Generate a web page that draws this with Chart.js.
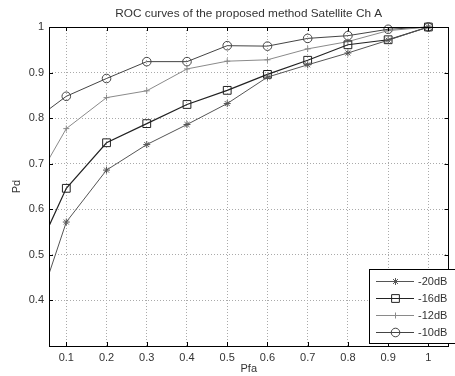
<!DOCTYPE html>
<html><head><meta charset="utf-8">
<script src="https://cdn.jsdelivr.net/npm/chart.js@4"></script>
<style>html,body{margin:0;padding:0;background:#fff}#wrap{width:455px;height:376px}</style>
</head><body><div id="wrap"><canvas id="c" width="455" height="376"></canvas></div>
<script>
const pfa = [0.05, 0.1, 0.2, 0.3, 0.4, 0.5, 0.6, 0.7, 0.8, 0.9, 1.0];
const pd20 = [0.44, 0.572, 0.686, 0.742, 0.786, 0.832, 0.890, 0.917, 0.943, 0.971, 1.0];
const pd16 = [0.55, 0.646, 0.746, 0.788, 0.830, 0.861, 0.896, 0.927, 0.961, 0.972, 1.0];
const pd12 = [0.70, 0.777, 0.845, 0.860, 0.908, 0.925, 0.928, 0.952, 0.968, 0.992, 1.0];
const pd10 = [0.815, 0.848, 0.887, 0.924, 0.924, 0.959, 0.958, 0.975, 0.981, 0.995, 1.0];
const seriesLabels = ['-20dB', '-16dB', '-12dB', '-10dB'];
const xTicks = [0.1, 0.2, 0.3, 0.4, 0.5, 0.6, 0.7, 0.8, 0.9, 1.0];
const yTicks = [0.4, 0.5, 0.6, 0.7, 0.8, 0.9, 1.0];
const titleText = 'ROC curves of the proposed method Satellite Ch A';
const xTitle = 'Pfa';
const yTitle = 'Pd';
const X_MIN = 0.057, X_MAX = 1.05, Y_MIN = 0.3, Y_MAX = 1.0;

const FONT = '"Liberation Sans", Arial, sans-serif';
const pts = arr => arr.map((v, i) => ({x: pfa[i], y: v}));
const styles = [
  {color: '#555', width: 1, point: 'star', r: 3.5},
  {color: '#222', width: 1.2, point: 'rect', r: 5.5},
  {color: '#8a8a8a', width: 1, point: 'cross', r: 3},
  {color: '#444', width: 1, point: 'circle', r: 4.3}
];
const allData = [pd20, pd16, pd12, pd10];
const datasets = allData.map((d, i) => ({
  label: seriesLabels[i],
  data: pts(d),
  borderColor: styles[i].color,
  borderWidth: styles[i].width,
  pointStyle: styles[i].point,
  pointRadius: c => (c.raw && c.raw.x < X_MIN) ? 0 : styles[i].r,
  legendRadius: styles[i].r,
  pointBorderColor: styles[i].color,
  pointBorderWidth: 1,
  pointBackgroundColor: 'rgba(0,0,0,0)',
  pointHoverRadius: styles[i].r,
  tension: 0,
  fill: false,
  clip: {left: 0, top: 10, right: 10, bottom: 0}
}));

const deco = {
  id: 'deco',
  afterDraw(chart) {
    const ctx = chart.ctx, a = chart.chartArea;
    const xs = chart.scales.x, ys = chart.scales.y;
    ctx.save();
    ctx.strokeStyle = '#000'; ctx.lineWidth = 1;
    ctx.strokeRect(Math.round(a.left) + 0.5, Math.round(a.top) + 0.5, Math.round(a.right - a.left) - 1, Math.round(a.bottom - a.top));
    ctx.beginPath();
    xTicks.forEach(v => {
      const px = Math.round(xs.getPixelForValue(v)) + 0.5;
      ctx.moveTo(px, a.bottom); ctx.lineTo(px, a.bottom - 4);
      ctx.moveTo(px, a.top); ctx.lineTo(px, a.top + 4);
    });
    yTicks.forEach(v => {
      const py = Math.round(ys.getPixelForValue(v)) + 0.5;
      ctx.moveTo(a.left, py); ctx.lineTo(a.left + 4, py);
      ctx.moveTo(a.right, py); ctx.lineTo(a.right - 4, py);
    });
    ctx.stroke();
    ctx.fillStyle = '#333';
    ctx.font = '11.8px ' + FONT;
    ctx.textAlign = 'center'; ctx.textBaseline = 'middle';
    ctx.fillText(titleText, (a.left + a.right) / 2, 14);
    ctx.font = '11px ' + FONT;
    ctx.fillText(xTitle, (a.left + a.right) / 2, 369);
    ctx.save();
    ctx.translate(17, (a.top + a.bottom) / 2);
    ctx.rotate(-Math.PI / 2);
    ctx.fillText(yTitle, 0, 0);
    ctx.restore();
    const lx = 369, ly = 269, lw = 90, lh = 74;
    ctx.fillStyle = '#fff';
    ctx.fillRect(lx, ly, lw, lh);
    ctx.strokeStyle = '#000'; ctx.lineWidth = 1;
    ctx.strokeRect(lx + 0.5, ly + 0.5, lw, lh);
    const rows = [281, 298, 315, 332];
    chart.data.datasets.forEach((ds, i) => {
      const y = rows[i] + 0.5;
      ctx.strokeStyle = ds.borderColor; ctx.lineWidth = ds.borderWidth;
      ctx.beginPath(); ctx.moveTo(376, y); ctx.lineTo(414, y); ctx.stroke();
      ctx.lineWidth = 1;
      ctx.fillStyle = 'rgba(0,0,0,0)';
      ctx.strokeStyle = ds.pointBorderColor;
      Chart.helpers.drawPoint(ctx, {pointStyle: ds.pointStyle, radius: ds.legendRadius, borderWidth: 1}, 395.5, y);
      ctx.fillStyle = '#333';
      ctx.textAlign = 'left';
      ctx.fillText(ds.label, 418, rows[i] + 1);
    });
    ctx.restore();
  }
};

new Chart(document.getElementById('c'), {
  type: 'line',
  data: {datasets},
  options: {
    responsive: false,
    animation: false,
    devicePixelRatio: 1,
    layout: {padding: {top: 27, right: 1, left: 0, bottom: 0}},
    plugins: {legend: {display: false}, title: {display: false}, tooltip: {enabled: false}},
    scales: {
      x: {
        type: 'linear', min: X_MIN, max: X_MAX,
        afterBuildTicks: s => { s.ticks = xTicks.map(v => ({value: v})); },
        afterFit: s => { s.height = 30; },
        grid: {color: '#aaa', lineWidth: 1, drawTicks: false},
        border: {display: false, dash: [1, 2]},
        ticks: {padding: 5, color: '#333', font: {size: 11, family: FONT}, maxRotation: 0, autoSkip: false,
          callback: v => String(Math.round(v * 10) / 10)}
      },
      y: {
        type: 'linear', min: Y_MIN, max: Y_MAX,
        afterBuildTicks: s => { s.ticks = yTicks.map(v => ({value: v})); },
        afterFit: s => { s.width = 49; },
        grid: {color: '#aaa', lineWidth: 1, drawTicks: false},
        border: {display: false, dash: [1, 2]},
        ticks: {padding: 5, color: '#333', font: {size: 11, family: FONT}, autoSkip: false,
          callback: v => String(Math.round(v * 10) / 10)}
      }
    }
  },
  plugins: [deco]
});
</script></body></html>
